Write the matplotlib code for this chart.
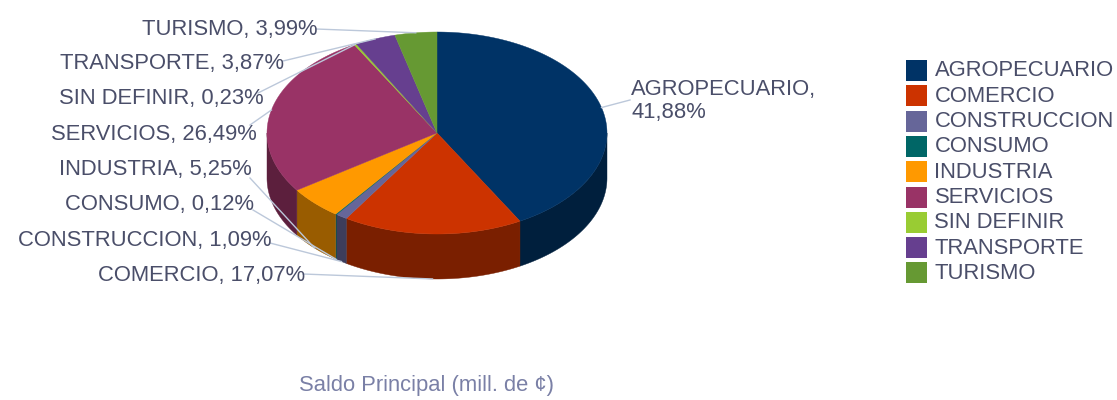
# Recreate the 3D pie of saldo principal by sector
import numpy as np
import matplotlib
matplotlib.use("Agg")
import matplotlib.pyplot as plt
from matplotlib.patches import Polygon, Rectangle

plt.rcParams['font.family'] = ['Liberation Sans', 'DejaVu Sans']

# Data
sectors = ['AGROPECUARIO', 'COMERCIO', 'CONSTRUCCION', 'CONSUMO', 'INDUSTRIA',
           'SERVICIOS', 'SIN DEFINIR', 'TRANSPORTE', 'TURISMO']
shares = [41.88, 17.07, 1.09, 0.12, 5.25, 26.49, 0.23, 3.87, 3.99]
colors = ['#003366', '#CC3300', '#666699', '#006666', '#FF9900',
          '#993366', '#99CC33', '#663F8F', '#669933']
title = 'Saldo Principal (mill. de ¢)'

# Layout, in pixels of the figure
cx, cy = 437, 133
rx, ry = 170, 101
depth = 45
label_right = [None, 305, 271, 254, 252, 257, 264, 284, 317]
label_y = [None, 272.5, 238, 202, 166.5, 132, 96, 61.5, 26.5]
line_start_x = [630, 303, 270, 253, 250, 250, 258, 283, 316]
line_start_y = [100, 274, 243, 210, 178, 125, 93, 61, 29]
text_color = '#4A4E69'
line_color = '#BCC8DA'
font_size = 15.85


def ellipse(t):
    return cx + rx * np.sin(t), cy - ry * np.cos(t)


def darken(color, k=0.6):
    return tuple(c * k for c in matplotlib.colors.to_rgb(color))


fig = plt.figure(figsize=(11.17, 4), dpi=100)
ax = fig.add_axes([0, 0, 1, 1])
ax.set_xlim(0, 1117)
ax.set_ylim(400, 0)
ax.axis('off')

edges = np.radians(np.concatenate([[0], np.cumsum(shares)]) / sum(shares) * 360)
mids = (edges[:-1] + edges[1:]) / 2

# Side wall, only the front half of the rim can be seen
for i, color in enumerate(colors):
    t0 = max(edges[i], np.pi / 2)
    t1 = min(edges[i + 1], 3 * np.pi / 2)
    if t1 <= t0:
        continue
    x, y = ellipse(np.linspace(t0, t1, 80))
    pts = np.vstack([np.column_stack([x, y]), np.column_stack([x, y + depth])[::-1]])
    ax.add_patch(Polygon(pts, facecolor=darken(color), edgecolor=darken(color), lw=0.3, zorder=2))

# Top of the pie
for i, color in enumerate(colors):
    x, y = ellipse(np.linspace(edges[i], edges[i + 1], 120))
    pts = np.vstack([[cx, cy], np.column_stack([x, y])])
    ax.add_patch(Polygon(pts, facecolor=color, edgecolor=color, lw=0.3, zorder=3))

# Labels and their leader lines
for i, name in enumerate(sectors):
    ex, ey = ellipse(mids[i])
    if np.cos(mids[i]) < 0:
        ey += depth
    ax.plot([line_start_x[i], ex], [line_start_y[i], ey], color=line_color, lw=1, zorder=4)
    if i == 0:
        ax.text(631, 95, f'{name},', color=text_color, fontsize=font_size, va='baseline', ha='left')
        ax.text(631, 118, f'{shares[i]:.2f}%'.replace('.', ','), color=text_color,
                fontsize=font_size, va='baseline', ha='left')
        continue
    ax.text(label_right[i], label_y[i] + 8, f'{name}, {shares[i]:.2f}%'.replace('.', ','),
            color=text_color, fontsize=font_size, va='baseline', ha='right', zorder=5)

# Legend
for i, name in enumerate(sectors):
    top = 60 + 25.3 * i
    ax.add_patch(Rectangle((906, top), 21, 21, facecolor=colors[i], edgecolor='none'))
    ax.text(934.5, top + 16.5, name, color=text_color, fontsize=font_size, va='baseline', ha='left')

ax.text(426.5, 391, title, color='#7A80A6', fontsize=font_size, va='baseline', ha='center')

fig.savefig('out.png', dpi=100)
